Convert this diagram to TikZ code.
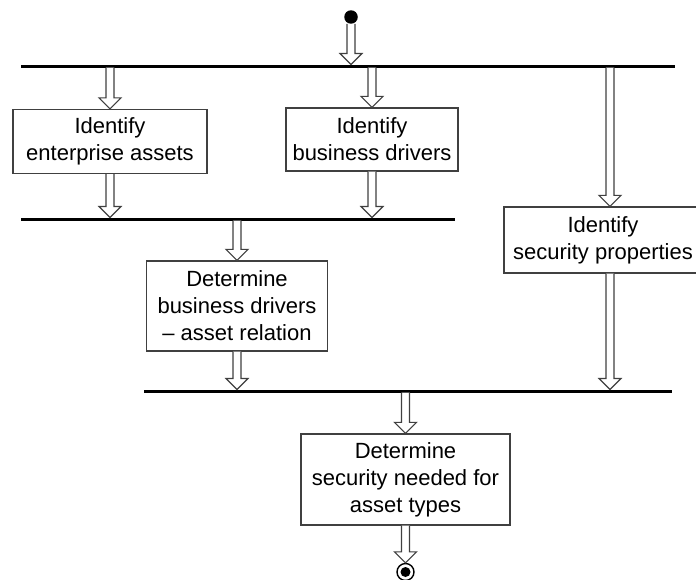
\documentclass[tikz,border=0pt]{standalone}
\usepackage{fontspec}
\setmainfont{Liberation Sans}
\usetikzlibrary{calc}
\tikzset{
  box/.style={draw=black!75, line width=1.3pt, fill=white, inner sep=0pt, align=center,
    font=\fontsize{22}{27}\selectfont},
  bar/.style={fill=black, inner sep=0pt, outer sep=0pt, minimum height=3pt},
  startdot/.style={circle, fill=black, inner sep=0pt, minimum size=13.5pt},
  enddot/.style={circle, draw=black, line width=1.4pt, fill=white, inner sep=0pt, minimum size=17pt},
  dblarr/.style={draw=black!75, line width=1.1pt, fill=white, line join=miter,
    to path={let \p1=(\tikztostart), \p2=(\tikztotarget) in
      (\x2-4pt,\y1) -- (\x2-4pt,\y2+11pt) -- (\x2-11pt,\y2+11pt) -- (\x2,\y2)
      -- (\x2+11pt,\y2+11pt) -- (\x2+4pt,\y2+11pt) -- (\x2+4pt,\y1)}},
}
\begin{document}
\begin{tikzpicture}[x=1pt,y=-1pt]
\useasboundingbox (0,0) rectangle (696,579);
\clip (0,0) rectangle (696,579);
% bars
\node[bar, minimum width=654pt] (bar1) at (348,66) {};
\node[bar, minimum width=434pt] (bar2) at (238,219) {};
\node[bar, minimum width=528pt] (bar3) at (408,391) {};
% boxes
\node[box, minimum width=194pt, minimum height=64pt] (b1) at (110,141.5) {Identify\\enterprise assets};
\node[box, minimum width=172pt, minimum height=63pt] (b2) at (372,139.5) {Identify\\business drivers};
\node[box, minimum width=198pt, minimum height=66pt] (b3) at (603,240) {Identify\\security properties};
\node[box, minimum width=181pt, minimum height=90pt] (b4) at (237,306) {Determine\\business drivers\\\textendash{} asset relation};
\node[box, minimum width=209pt, minimum height=91pt] (b5) at (405.5,479.5) {Determine\\security needed for\\asset types};
\coordinate (b3top) at ([xshift=7pt]b3.north);
\coordinate (b3bot) at ([xshift=7pt]b3.south);
% start / end
\node[startdot] (start) at (351,17) {};
\node[enddot] (end) at (405.5,572) {};
\fill (end.center) circle (5pt);
% arrows
\draw[dblarr] (start.south) to (start.south |- bar1.north);
\draw[dblarr] (bar1.south -| b1.north) to (b1.north);
\draw[dblarr] (bar1.south -| b2.north) to (b2.north);
\draw[dblarr] (bar1.south -| b3top) to (b3top);
\draw[dblarr] (b1.south) to (b1.south |- bar2.north);
\draw[dblarr] (b2.south) to (b2.south |- bar2.north);
\draw[dblarr] (bar2.south -| b4.north) to (b4.north);
\draw[dblarr] (b4.south) to (b4.south |- bar3.north);
\draw[dblarr] (b3bot) to (b3bot |- bar3.north);
\draw[dblarr] (bar3.south -| b5.north) to (b5.north);
\draw[dblarr] (b5.south) to (end.north);
\end{tikzpicture}
\end{document}
